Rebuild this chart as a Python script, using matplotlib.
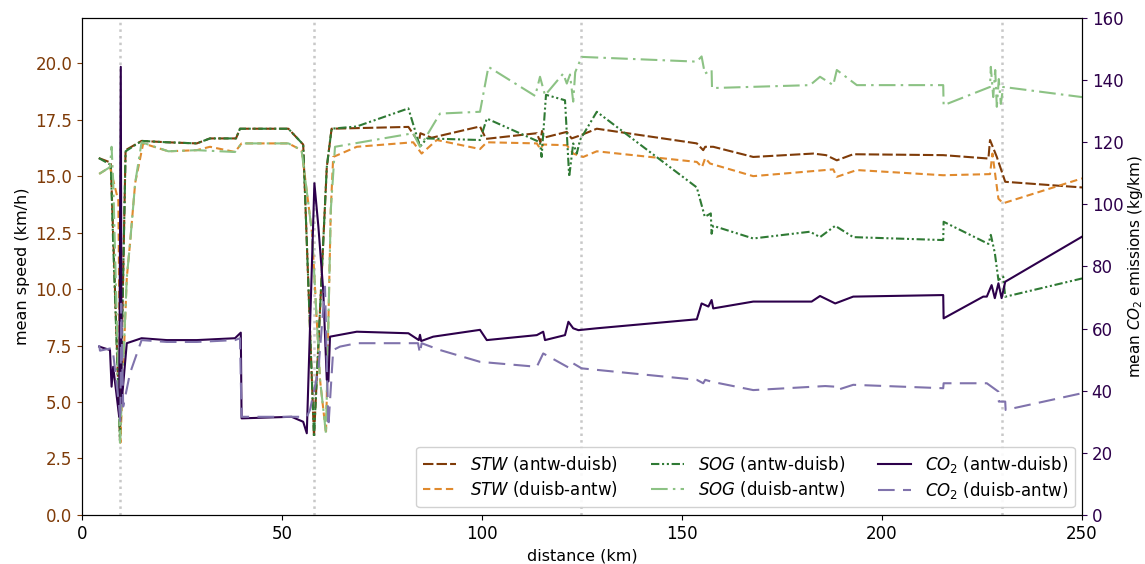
import matplotlib
matplotlib.use("Agg")
import matplotlib.pyplot as plt

# ---------------- data ----------------
# speed through water, Antwerp -> Duisburg
stw_ad_km = [4.2, 7.2, 9.5, 10.9, 14.9, 21.2, 28.7, 32.0, 38.5, 39.5, 51.6, 55.3, 58.0,
             61.2, 62.4, 81.6, 84.2, 84.6, 87.4, 99.5, 101.0, 113.7, 114.6, 115.0, 115.4,
             121.2, 122.4, 124.5, 128.7, 153.7, 155.3, 155.8, 157.8, 167.8, 182.8, 186.0,
             188.7, 192.8, 215.3, 226.6, 227.0, 228.7, 230.8, 250.0]
stw_ad = [15.8, 15.6, 3.3, 16.15, 16.56, 16.5, 16.45, 16.67, 16.67, 17.1, 17.1, 16.4, 3.45,
          15.4, 17.1, 17.18, 16.5, 16.9, 16.7, 17.2, 16.65, 16.9, 16.5, 17.0, 16.7,
          16.96, 16.67, 16.8, 17.1, 16.45, 16.15, 16.3, 16.3, 15.85, 16.0, 15.93,
          15.7, 15.97, 15.93, 15.78, 16.6, 15.85, 14.75, 14.5]

# speed through water, Duisburg -> Antwerp
stw_da_km = [4.3, 7.0, 9.1, 9.6, 11.2, 12.0, 13.3, 15.3, 21.6, 28.7, 32.0, 38.25, 39.9, 51.6,
             54.9, 57.5, 59.5, 61.0, 62.2, 62.8, 68.7, 82.8, 84.9, 88.7, 99.5, 101.2, 113.7,
             114.6, 115.3, 121.2, 122.8, 125.3, 128.7, 153.7, 155.0, 155.8, 157.0, 167.8,
             187.8, 188.7, 193.7, 215.3, 227.0, 227.6, 229.1, 230.3, 250.0]
stw_da = [15.1, 15.4, 13.9, 3.2, 10.5, 12.0, 14.7, 16.45, 16.1, 16.15, 16.3, 16.07, 16.45, 16.45,
          16.15, 12.5, 6.0, 3.6, 13.5, 15.85, 16.3, 16.5, 16.0, 16.6, 16.2, 16.5, 16.45,
          16.2, 16.4, 16.37, 16.0, 15.85, 16.1, 15.63, 15.4, 15.8, 15.56, 15.0,
          15.3, 14.97, 15.27, 15.04, 15.09, 16.0, 14.0, 13.8, 14.9]

# speed over ground, Antwerp -> Duisburg
sog_ad_km = [4.2, 7.2, 7.8, 9.5, 10.9, 14.9, 21.2, 28.7, 32.0, 38.5, 39.5, 51.6, 55.3, 58.0,
             61.2, 62.4, 68.7, 81.6, 84.5, 86.2, 99.5, 101.2, 114.5, 114.9, 116.0, 120.75,
             121.8, 122.8, 123.7, 124.5, 128.7, 153.7, 155.7, 157.2, 157.4, 157.8, 167.8,
             182.0, 184.5, 188.3, 192.8, 215.3, 215.4, 226.6, 227.2, 228.2, 229.1, 230.3,
             230.8, 250.0]
sog_ad = [15.8, 15.5, 12.0, 3.3, 16.1, 16.56, 16.5, 16.45, 16.67, 16.67, 17.1, 17.1, 16.4, 3.45,
          15.4, 17.1, 17.2, 18.0, 16.3, 16.67, 16.6, 17.55, 16.5, 15.85, 18.6, 18.36,
          14.97, 16.45, 16.0, 16.6, 17.85, 14.5, 13.2, 13.35, 12.45, 12.8, 12.24,
          12.54, 12.3, 12.8, 12.3, 12.17, 12.98, 12.0, 12.4, 11.6, 10.4, 10.55,
          9.66, 10.47]

# speed over ground, Duisburg -> Antwerp
sog_da_km = [4.3, 7.0, 7.4, 7.8, 9.5, 11.2, 12.0, 13.3, 14.9, 21.6, 28.7, 38.25, 39.9, 51.6,
             54.9, 57.5, 59.5, 61.0, 62.2, 63.25, 82.8, 84.5, 89.5, 99.5, 101.6, 113.3,
             114.5, 115.75, 120.3, 121.2, 122.0, 122.8, 123.3, 124.9, 153.7, 154.9, 155.7,
             157.4, 157.5, 182.0, 184.5, 187.8, 188.7, 193.7, 215.3, 215.4, 227.0, 227.2,
             227.8, 228.3, 228.7, 229.2, 229.7, 230.3, 250.0]
sog_da = [15.1, 15.4, 16.3, 14.8, 3.2, 10.5, 12.0, 14.7, 16.5, 16.1, 16.15, 16.07, 16.45, 16.45,
          16.15, 12.5, 6.0, 3.6, 13.5, 16.3, 16.9, 16.3, 17.77, 17.85, 19.84, 18.55,
          19.4, 18.58, 19.54, 19.1, 19.5, 18.3, 19.6, 20.28, 20.07, 20.3, 19.54,
          19.7, 18.9, 19.03, 19.4, 19.03, 19.7, 19.03, 19.03, 18.14, 18.95, 19.84,
          18.5, 19.7, 18.07, 19.3, 18.2, 18.95, 18.5]

# CO2 emissions, Antwerp -> Duisburg
co2_ad_km = [4.3, 7.0, 7.4, 7.8, 9.3, 9.7, 9.9, 11.2, 14.9, 21.2, 28.7, 38.25, 39.7, 39.9,
             52.4, 55.3, 56.2, 58.1, 59.1, 60.3, 61.2, 61.6, 62.0, 64.5, 68.7, 81.6, 84.2,
             84.5, 84.8, 87.8, 99.5, 101.2, 113.7, 115.3, 115.75, 120.75, 121.6, 122.8,
             124.1, 128.7, 153.7, 154.9, 156.6, 157.4, 157.8, 167.8, 182.4, 184.5, 188.3,
             192.8, 215.3, 215.4, 225.3, 226.2, 227.4, 228.2, 229.1, 229.9, 230.8, 250.0]
co2_ad = [54.2, 53.1, 41.3, 47.7, 31.6, 144.3, 36.0, 55.3, 56.9, 56.3, 56.3, 56.9, 58.7, 31.1,
          31.6, 30.0, 26.3, 106.8, 92.8, 72.4, 43.5, 43.0, 57.4, 58.0, 59.0, 58.5, 56.3,
          58.0, 56.0, 57.4, 59.6, 56.3, 57.9, 59.0, 56.3, 57.9, 62.2, 60.1,
          59.5, 60.1, 63.0, 68.1, 67.1, 69.2, 66.5, 68.7, 68.7, 70.5, 68.1,
          70.3, 70.8, 63.3, 70.3, 70.3, 74.0, 69.8, 74.6, 69.8, 75.1, 89.6]

# CO2 emissions, Duisburg -> Antwerp
co2_da_km = [4.3, 4.5, 7.4, 7.8, 9.3, 9.6, 9.8, 10.3, 12.0, 14.9, 21.2, 28.7, 38.25, 39.5,
             39.9, 52.8, 56.2, 57.0, 59.1, 60.75, 61.6, 62.8, 64.5, 68.7, 84.0, 84.5, 84.9,
             89.5, 99.5, 113.7, 115.3, 122.0, 122.8, 124.9, 153.7, 155.3, 155.8, 157.4,
             167.8, 185.8, 188.3, 188.7, 192.8, 215.3, 215.4, 226.2, 229.1, 229.2, 230.8,
             230.9, 250.0]
co2_da = [54.7, 52.9, 53.7, 52.0, 34.9, 30.0, 68.0, 34.9, 45.6, 56.3, 55.7, 55.7, 56.3, 56.9,
          31.6, 31.6, 31.6, 33.8, 46.7, 73.5, 28.4, 53.1, 54.2, 55.3, 55.3, 52.0, 55.3,
          53.1, 49.3, 47.7, 52.0, 47.2, 48.8, 47.2, 43.5, 42.4, 43.5, 42.9,
          40.2, 41.5, 41.3, 40.2, 41.9, 40.8, 42.4, 42.4, 39.7, 36.5, 36.5,
          33.8, 39.2]

# lock / border positions marked by vertical guides
marker_km = [9.5, 58.0, 124.75, 230.0]

# ---------------- styling ----------------
c_stw_ad = "#7f3b08"
c_stw_da = "#e08a2e"
c_sog_ad = "#2f7a34"
c_sog_da = "#8cc284"
c_co2_ad = "#2d004b"
c_co2_da = "#8073ac"

fig = plt.figure(figsize=(11.45, 5.64), dpi=100)
ax = fig.add_axes([0.0716, 0.087, 0.8734, 0.881])
ax2 = ax.twinx()

for xv in marker_km:
    ax.axvline(xv, color="#c8c8c8", linestyle=":", linewidth=1.8, zorder=0)

lw = 1.5
l1, = ax.plot(stw_ad_km, stw_ad, color=c_stw_ad, lw=lw, dashes=(5, 1.5),
              label="$STW$ (antw-duisb)")
l2, = ax.plot(stw_da_km, stw_da, color=c_stw_da, lw=lw, dashes=(3.5, 2.0),
              label="$STW$ (duisb-antw)")
l3, = ax.plot(sog_ad_km, sog_ad, color=c_sog_ad, lw=lw,
              dashes=(4, 1.3, 1, 1.3, 1, 1.3), label="$SOG$ (antw-duisb)")
l4, = ax.plot(sog_da_km, sog_da, color=c_sog_da, lw=lw,
              dashes=(8, 2.5, 1.2, 2.5), label="$SOG$ (duisb-antw)")
l5, = ax2.plot(co2_ad_km, co2_ad, color=c_co2_ad, lw=lw, linestyle="-",
               label="$CO_2$ (antw-duisb)")
l6, = ax2.plot(co2_da_km, co2_da, color=c_co2_da, lw=lw, dashes=(8, 4),
               label="$CO_2$ (duisb-antw)")

ax.set_xlim(0, 250)
ax.set_ylim(0, 22)
ax2.set_ylim(0, 160)
ax.set_yticks([0, 2.5, 5, 7.5, 10, 12.5, 15, 17.5, 20])
ax2.set_yticks(range(0, 161, 20))
ax.set_xticks([0, 50, 100, 150, 200, 250])

ax.tick_params(axis="y", colors=c_stw_ad, labelsize=12)
ax.tick_params(axis="x", labelsize=12)
ax2.tick_params(axis="y", colors=c_co2_ad, labelsize=12)
for t in ax.get_yticklines():
    t.set_color("black")
for t in ax2.get_yticklines():
    t.set_color("black")

ax.set_xlabel("distance (km)", fontsize=11.5)
ax.set_ylabel("mean speed (km/h)", fontsize=11.5)
ax2.set_ylabel("mean $CO_2$ emissions (kg/km)", fontsize=11, labelpad=2)

handles = [l1, l2, l3, l4, l5, l6]
ax2.legend(handles=handles, loc="lower right", ncol=3, fontsize=12,
           handlelength=2.0, columnspacing=2.0, labelspacing=0.3,
           borderaxespad=0.45, framealpha=0.9)

fig.savefig("out.png", dpi=100)
